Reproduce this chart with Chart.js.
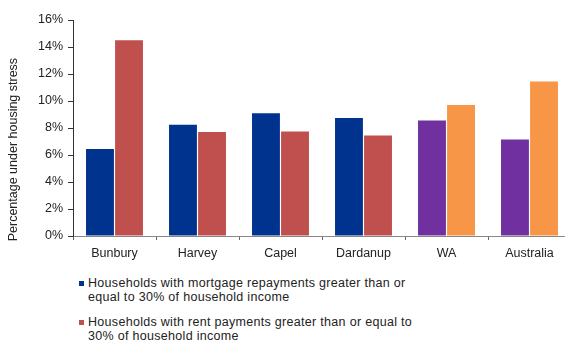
<!DOCTYPE html>
<html>
<head>
<meta charset="utf-8">
<script src="https://cdn.jsdelivr.net/npm/chart.js@4.4.0/dist/chart.umd.min.js"></script>
<style>
  html, body { margin: 0; padding: 0; background: #fff; overflow: hidden; }
  #wrap { position: relative; width: 575px; height: 340px; }
  #stressChart { position: absolute; left: 0; top: 0; }
  #legend { position: absolute; left: 79px; top: 276px; font-family: "Liberation Sans", Arial, sans-serif; font-size: 12.5px; color: #222; letter-spacing: 0.3px; }
  .item { position: relative; padding-left: 9px; line-height: 14px; margin-bottom: 11px; }
  .swatch { position: absolute; left: 0; top: 5px; width: 5px; height: 5px; }
</style>
</head>
<body>
<div id="wrap">
  <canvas id="stressChart" width="575" height="270"></canvas>
  <div id="legend"></div>
</div>
<script>
const regions = ['Bunbury', 'Harvey', 'Capel', 'Dardanup', 'WA', 'Australia'];
const mortgageStress = [6.45, 8.25, 9.1, 8.75, 8.55, 7.15];
const rentStress = [14.5, 7.7, 7.75, 7.45, 9.7, 11.45];
const yTicks = [0, 2, 4, 6, 8, 10, 12, 14, 16];
const seriesNames = [
    ['Households with mortgage repayments greater than or', 'equal to 30% of household income'],
    ['Households with rent payments greater than or equal to', '30% of household income']
];

const navy = '#00338D';
const red = '#C0504D';
const purple = '#7030A0';
const orange = '#F79646';
const fontFamily = '"Liberation Sans", Arial, sans-serif';

// local regions in navy/red, state and national comparisons in purple/orange
const isBenchmark = (name) => name === 'WA' || name === 'Australia';

// y-axis title sits a little below the plot centre
const yTitle = {
    id: 'yTitle',
    afterDraw(chart) {
        const { ctx, chartArea } = chart;
        ctx.save();
        ctx.translate(14, chartArea.top + (chartArea.bottom - chartArea.top) * 0.6);
        ctx.rotate(-Math.PI / 2);
        ctx.font = '12.5px ' + fontFamily;
        ctx.fillStyle = '#222';
        ctx.textAlign = 'center';
        ctx.textBaseline = 'middle';
        ctx.fillText('Percentage under housing stress', 0, 0);
        ctx.restore();
    }
};

const chart = new Chart(document.getElementById('stressChart').getContext('2d'), {
    type: 'bar',
    data: {
        labels: regions,
        datasets: [{
            label: seriesNames[0],
            data: mortgageStress,
            backgroundColor: regions.map(r => isBenchmark(r) ? purple : navy),
            barPercentage: 0.96,
            categoryPercentage: 0.7
        }, {
            label: seriesNames[1],
            data: rentStress,
            backgroundColor: regions.map(r => isBenchmark(r) ? orange : red),
            barPercentage: 0.96,
            categoryPercentage: 0.7
        }]
    },
    options: {
        responsive: false,
        animation: false,
        layout: { padding: { top: 20, right: 4, left: 0, bottom: 0 } },
        plugins: {
            legend: { display: false },
            tooltip: { enabled: false }
        },
        scales: {
            x: {
                grid: { drawOnChartArea: false, drawTicks: true, tickLength: 4, color: '#666' },
                border: { color: '#888', width: 1 },
                ticks: { color: '#222', padding: 6, font: { family: fontFamily, size: 12.5 } },
                afterFit: (s) => { s.height = 34; }
            },
            y: {
                min: 0,
                max: 16,
                afterBuildTicks: (s) => { s.ticks = yTicks.map(v => ({ value: v })); },
                grid: { drawOnChartArea: false, drawTicks: true, tickLength: 5, color: '#333' },
                border: { color: '#333', width: 1 },
                ticks: {
                    color: '#222',
                    padding: 5,
                    font: { family: fontFamily, size: 12.5 },
                    callback: (v) => v + '%'
                },
                afterFit: (s) => { s.width = 73; }
            }
        }
    },
    plugins: [yTitle]
});

// legend below the plot, one swatch per series
const legend = document.getElementById('legend');
chart.data.datasets.forEach((ds, i) => {
    const item = document.createElement('div');
    item.className = 'item';
    const sw = document.createElement('span');
    sw.className = 'swatch';
    sw.style.background = ds.backgroundColor[0];
    item.appendChild(sw);
    ds.label.forEach((line, j) => {
        if (j > 0) item.appendChild(document.createElement('br'));
        item.appendChild(document.createTextNode(line));
    });
    legend.appendChild(item);
});
</script>
</body>
</html>
